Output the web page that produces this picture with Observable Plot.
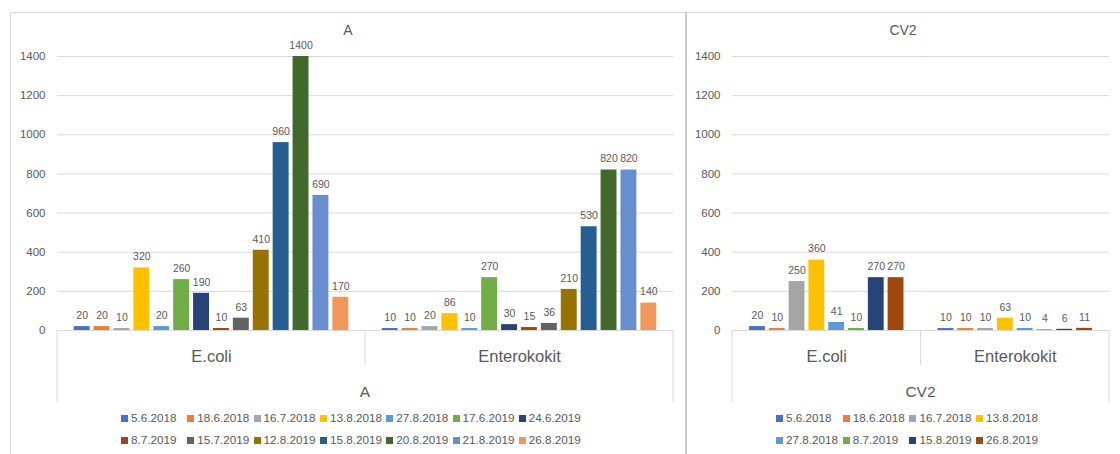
<!DOCTYPE html>
<html>
<head>
<meta charset="utf-8">
<script src="https://cdn.jsdelivr.net/npm/d3@7"></script>
<script src="https://cdn.jsdelivr.net/npm/@observablehq/plot@0.6"></script>
<style>
  body { margin: 0; background: #fff; }
  #chart { position: relative; width: 1120px; height: 454px; overflow: hidden; background: #fff;
           font-family: "Liberation Sans", Arial, sans-serif; color: #595959; }
  .frame { position: absolute; top: 12px; height: 460px; border-top: 1px solid #d9d9d9; box-sizing: border-box; }
  .plot { position: absolute; top: 12px; }
  .title { position: absolute; top: 23px; font-size: 14px; line-height: 14px; transform: translateX(-50%); white-space: nowrap; }
  .lg { position: absolute; font-size: 11.7px; line-height: 14px; white-space: nowrap; }
  .lg i { display: inline-block; width: 7px; height: 7px; margin-right: 3px; vertical-align: 0px; }
</style>
</head>
<body>
<div id="chart"></div>
<script>
// Sample groups on the category axis
const groups = ["E.coli", "Enterokokit"];

// Sampling dates, site A
const datesA = ["5.6.2018", "18.6.2018", "16.7.2018", "13.8.2018", "27.8.2018", "17.6.2019", "24.6.2019",
                "8.7.2019", "15.7.2019", "12.8.2019", "15.8.2019", "20.8.2019", "21.8.2019", "26.8.2019"];
const aEcoli = [20, 20, 10, 320, 20, 260, 190, 10, 63, 410, 960, 1400, 690, 170];
const aEntero = [10, 10, 20, 86, 10, 270, 30, 15, 36, 210, 530, 820, 820, 140];

// Sampling dates, site CV2
const datesCV2 = ["5.6.2018", "18.6.2018", "16.7.2018", "13.8.2018", "27.8.2018", "8.7.2019", "15.8.2019", "26.8.2019"];
const cvEcoli = [20, 10, 250, 360, 41, 10, 270, 270];
const cvEntero = [10, 10, 10, 63, 10, 4, 6, 11];

// Value axis ticks
const yTicks = [0, 200, 400, 600, 800, 1000, 1200, 1400];

// Office colour sequence, assigned by series position
const palette = ["#4472C4", "#ED7D31", "#A5A5A5", "#FFC000", "#5B9BD5", "#70AD47", "#264478",
                 "#9E480E", "#636363", "#997300", "#255E91", "#43682B", "#698ED0", "#F1975A"];

const FONT = '"Liberation Sans", Arial, sans-serif';
const TEXT = "#595959";
const LINE = "#d9d9d9";
const chart = document.getElementById("chart");

function panel({name, dates, values, left, width, marginLeft, marginRight, paddingOuter,
                legendLeft, legendCols, legendPitch}) {
  const rows = groups.flatMap((g, gi) => dates.map((d, si) => ({group: g, date: d, value: values[gi][si]})));
  const height = 395;

  const plot = Plot.plot({
    width, height,
    marginLeft, marginRight, marginTop: 44, marginBottom: 77,
    style: {fontFamily: FONT, fontSize: "11.5px", color: TEXT, background: "transparent", overflow: "visible"},
    facet: {data: rows, x: "group"},
    fx: {domain: groups, axis: "bottom", padding: 0, round: false, label: null, tickSize: 0, tickPadding: 20},
    x: {domain: dates, axis: null, paddingInner: 0.2, paddingOuter, round: false},
    y: {domain: [0, 1400], ticks: yTicks, tickFormat: d => String(d), tickSize: 0, tickPadding: 12,
        label: null, line: false},
    color: {domain: dates, range: palette.slice(0, dates.length)},
    marks: [
      Plot.ruleY(yTicks.filter(t => t > 0), {stroke: LINE, strokeWidth: 1}),
      Plot.barY(rows, {x: "date", y: "value", fill: "date"}),
      Plot.text(rows, {x: "date", y: "value", text: d => String(d.value), dy: -11,
                       fill: TEXT, fontSize: 10.5}),
      Plot.ruleY([0], {stroke: LINE, strokeWidth: 1})
    ]
  });

  plot.classList.add("plot");
  plot.style.left = left + "px";
  chart.appendChild(plot);

  const svg = d3.select(plot);
  svg.selectAll('g[aria-label^="fx-axis"] text').attr("font-size", "16.5px").attr("fill", TEXT);

  // Multi-level category axis box, drawn from the fx and y scales
  const fx = Plot.scale({fx: plot.scale("fx")});
  const y = Plot.scale({y: plot.scale("y")});
  const base = y.apply(0);
  const starts = groups.map(g => fx.apply(g));
  const end = fx.apply(groups[groups.length - 1]) + fx.bandwidth;
  const edges = [...starts, end];
  const box = svg.append("g").attr("stroke", LINE).attr("stroke-width", 1);
  edges.forEach((e, i) => {
    const outer = i === 0 || i === edges.length - 1;
    box.append("line").attr("x1", e).attr("x2", e).attr("y1", base).attr("y2", base + (outer ? 72 : 35));
  });
  svg.append("text")
    .attr("x", (edges[0] + end) / 2).attr("y", base + 67)
    .attr("text-anchor", "middle").attr("font-size", "15.5px").attr("fill", TEXT)
    .text(name);

  // Panel title
  const t = document.createElement("div");
  t.className = "title";
  t.style.left = (left + width / 2) + "px";
  t.textContent = name;
  chart.appendChild(t);

  // Legend
  dates.forEach((d, i) => {
    const col = i % legendCols, row = Math.floor(i / legendCols);
    const el = document.createElement("div");
    el.className = "lg";
    el.style.left = (legendLeft + col * legendPitch) + "px";
    el.style.top = (411 + row * 22.4) + "px";
    const sw = document.createElement("i");
    sw.style.background = palette[i];
    el.appendChild(sw);
    el.appendChild(document.createTextNode(d));
    chart.appendChild(el);
  });
}

// Panel frames
const f1 = document.createElement("div");
f1.className = "frame";
f1.style.cssText += "left:10px;width:677px;border-left:1px solid #d9d9d9;border-right:2px solid #c8c8c8;";
chart.appendChild(f1);
const f2 = document.createElement("div");
f2.className = "frame";
f2.style.cssText += "left:687px;width:440px;";
chart.appendChild(f2);

panel({name: "A", dates: datesA, values: [aEcoli, aEntero], left: 10, width: 676,
       marginLeft: 47, marginRight: 13, paddingOuter: 0.84,
       legendLeft: 121, legendCols: 7, legendPitch: 66.3});
panel({name: "CV2", dates: datesCV2, values: [cvEcoli, cvEntero], left: 686, width: 434,
       marginLeft: 46, marginRight: 11, paddingOuter: 0.86,
       legendLeft: 776, legendCols: 4, legendPitch: 66.7});
</script>
</body>
</html>
